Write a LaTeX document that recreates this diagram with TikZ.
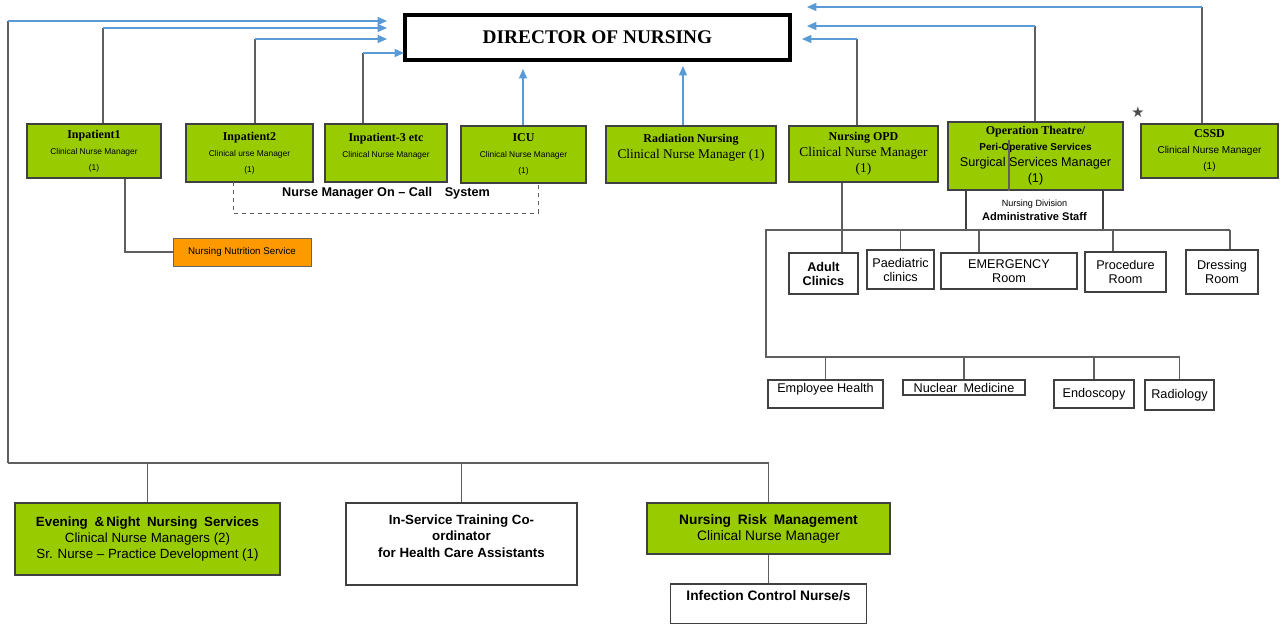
\documentclass[tikz,border=0pt]{standalone}
\usepackage{fontspec}
\setmainfont{Liberation Serif}
\setsansfont{Liberation Sans}
\newfontfamily\symfont{DejaVu Sans}
\usepackage{tikz}
\usetikzlibrary{arrows.meta}

\definecolor{leafgreen}{RGB}{153,204,0}
\definecolor{nutrorange}{RGB}{255,153,0}
\definecolor{linkblue}{RGB}{91,155,213}
\definecolor{linegray}{RGB}{95,95,95}

% box headings and the small manager lines
\newcommand{\hd}[1]{{\bfseries\fontsize{9}{10}\selectfont #1}}
\newcommand{\tn}[1]{{\sffamily\fontsize{6.3}{8}\selectfont #1}}

\begin{document}
\begin{tikzpicture}[x=0.75pt, y=-0.75pt,
    mgr/.style={rectangle, draw=black!75, fill=leafgreen, line width=0.9pt, align=center, inner sep=1pt},
    unit/.style={rectangle, draw=black!75, fill=white, line width=0.9pt, align=center, inner sep=1pt, font=\sffamily\fontsize{9.5}{10.5}\selectfont},
    link/.style={draw=linegray, line width=0.9pt},
    flow/.style={draw=linkblue, line width=0.9pt, -{Triangle[length=7pt, width=6pt]}}]

    \useasboundingbox (0,0) rectangle (1282,624);

    \node [draw=black, line width=2.6pt, minimum width=288.75pt, minimum height=33.75pt, font=\bfseries\fontsize{14.5}{16}\selectfont] (dir) at (597.5,37.5) {DIRECTOR OF NURSING};

    % ward managers
    \node [mgr, minimum width=100.5pt, minimum height=40.5pt] (ip1) at (94,151) {\hd{Inpatient1}\\\tn{Clinical Nurse Manager}\\\tn{(1)}};
    \node [mgr, minimum width=95.25pt, minimum height=43.5pt] (ip2) at (249.5,153) {\hd{Inpatient2}\\\tn{Clinical urse Manager}\\\tn{(1)}};
    \node [mgr, minimum width=91.5pt, minimum height=43.5pt, text depth=12pt] (ip3) at (386,153) {\hd{Inpatient-3 etc}\\\tn{Clinical Nurse Manager}};
    \node [mgr, minimum width=93.75pt, minimum height=42.75pt] (icu) at (523.5,154.5) {\hd{ICU}\\\tn{Clinical Nurse Manager}\\\tn{(1)}};
    \node [mgr, minimum width=127.5pt, minimum height=42.75pt, text depth=12pt] (rad) at (691,154.5) {\hd{Radiation Nursing}\\{\fontsize{10}{11}\selectfont Clinical Nurse Manager (1)}};
    \node [mgr, minimum width=111.75pt, minimum height=42pt] (opd) at (863.5,154) {\hd{Nursing OPD}\\{\fontsize{10}{10.5}\selectfont Clinical Nurse Manager}\\{\fontsize{10}{10.5}\selectfont (1)}};
    \node [mgr, minimum width=131.25pt, minimum height=51pt] (ot) at (1035.5,156) {\hd{Operation Theatre/}\\{\sffamily\bfseries\fontsize{7.5}{9}\selectfont Peri-Operative Services}\\{\sffamily\fontsize{9.5}{10}\selectfont Surgical Services Manager}\\{\sffamily\fontsize{9.5}{10}\selectfont (1)}};
    \node [mgr, minimum width=102.75pt, minimum height=40.5pt] (cssd) at (1209.5,151) {\hd{CSSD}\\{\sffamily\fontsize{7.5}{9}\selectfont Clinical Nurse Manager}\\{\sffamily\fontsize{7.5}{9}\selectfont (1)}};
    \node [text=black!70, font=\symfont\fontsize{11}{12}\selectfont] (star) at (1138,112) {★};

    \node [unit, minimum width=102.75pt, minimum height=30pt] (admin) at (1034.5,210) {{\fontsize{6.8}{8}\selectfont Nursing Division}\\{\bfseries\fontsize{8.3}{9.5}\selectfont Administrative Staff}};
    \node [rectangle, draw=black!60, fill=nutrorange, minimum width=103.5pt, minimum height=21pt, inner sep=1pt, font=\sffamily\fontsize{7.3}{8}\selectfont] (nutr) at (242,252) {Nursing Nutrition Service};
    \node [minimum width=228pt, minimum height=23.25pt, text depth=8pt, font=\sffamily\bfseries\fontsize{9.5}{10}\selectfont] (oncall) at (386,197.5) {Nurse Manager On -- Call\quad System};

    % clinics and rooms
    \node [unit, minimum width=51.75pt, minimum height=30.75pt] (adult) at (823.5,273.5) {\textbf{Adult}\\\textbf{Clinics}};
    \node [unit, minimum width=50.25pt, minimum height=29.25pt] (paed) at (900.5,269.5) {Paediatric\\clinics};
    \node [unit, minimum width=102pt, minimum height=27pt] (emer) at (1009,271) {EMERGENCY\\Room};
    \node [unit, minimum width=60.75pt, minimum height=30pt] (proc) at (1125.5,272) {Procedure\\Room};
    \node [unit, minimum width=54pt, minimum height=33pt] (dress) at (1222,272) {Dressing\\Room};
    \node [unit, minimum width=86.25pt, minimum height=21pt, text depth=9pt] (eh) at (825.5,394) {Employee Health};
    \node [unit, minimum width=91.5pt, minimum height=11.25pt] (nm) at (964,387.5) {Nuclear\enspace Medicine};
    \node [unit, minimum width=60pt, minimum height=21pt] (endo) at (1094,394) {Endoscopy};
    \node [unit, minimum width=51.75pt, minimum height=22.5pt] (radio) at (1179.5,395) {Radiology};

    % bottom row
    \node [mgr, minimum width=198.75pt, minimum height=54pt, font=\sffamily\fontsize{10}{12}\selectfont] (eve) at (147.5,539) {\textbf{Evening\enspace\&\,Night\enspace Nursing\enspace Services}\\Clinical Nurse Managers (2)\\Sr. Nurse -- Practice Development (1)};
    \node [unit, minimum width=173.25pt, minimum height=61.5pt, text depth=12pt, font=\sffamily\bfseries\fontsize{10}{12.5}\selectfont] (ins) at (461.5,544) {In-Service Training Co-\\ordinator\\for Health Care Assistants};
    \node [mgr, minimum width=182.25pt, minimum height=38.25pt, font=\sffamily\fontsize{10.3}{12}\selectfont] (risk) at (768.5,528.5) {\textbf{Nursing\enspace Risk\enspace Management}\\Clinical Nurse Manager};
    \node [unit, minimum width=147pt, minimum height=30pt, text depth=12pt, font=\sffamily\bfseries\fontsize{10.3}{12}\selectfont] (infect) at (768.5,604) {Infection Control Nurse/s};

    % bend points
    \coordinate (lefttop) at (8,21);
    \coordinate (leftbot) at (8,463);
    \coordinate (in1) at (387,21);
    \coordinate (in2) at (387,28);
    \coordinate (in3) at (387,39);
    \coordinate (in4) at (404,53);
    \coordinate (k2) at (103,28);
    \coordinate (k3) at (255,39);
    \coordinate (k4) at (363,53);
    \coordinate (icutip) at (523,69);
    \coordinate (radtip) at (683,66);
    \coordinate (out1) at (807,7);
    \coordinate (out2) at (807,26);
    \coordinate (out3) at (802,39);
    \coordinate (k5) at (1202,7);
    \coordinate (k6) at (1035,26);
    \coordinate (k7) at (857,39);
    \coordinate (nk) at (125,249);
    \coordinate (otk) at (1009,140);
    \coordinate (railL) at (766,230);
    \coordinate (railR) at (1230,230);
    \coordinate (rail2L) at (766,357);
    \coordinate (opdk) at (842,230);
    \coordinate (emk) at (979,230);
    \coordinate (prk) at (1113,230);

    % reporting lines to the director
    \draw [link] (leftbot) -- (lefttop);
    \draw [flow] (lefttop) -- (in1);
    \draw [link] (k2 |- ip1.north) -- (k2);
    \draw [flow] (k2) -- (in2);
    \draw [link] (k3 |- ip2.north) -- (k3);
    \draw [flow] (k3) -- (in3);
    \draw [link] (k4 |- ip3.north) -- (k4);
    \draw [flow] (k4) -- (in4);
    \draw [flow] (icutip |- icu.north) -- (icutip);
    \draw [flow] (radtip |- rad.north) -- (radtip);
    \draw [link] (k5 |- cssd.north) -- (k5);
    \draw [flow] (k5) -- (out1);
    \draw [link] (k6 |- ot.north) -- (k6);
    \draw [flow] (k6) -- (out2);
    \draw [link] (k7 |- opd.north) -- (k7);
    \draw [flow] (k7) -- (out3);

    \draw [link] (nk |- ip1.south) |- (nutr.west);
    \draw [link, dashed] (oncall.north west) -- (oncall.south west) -- (oncall.south east) -- (oncall.north east);
    \draw [link] (otk) -- (otk |- ot.south);

    % clinics
    \draw [link] (railR) -- (railL) -- (rail2L) -- (rail2L -| radio.north);
    \draw [link] (opdk |- opd.south) -- (opdk |- adult.north);
    \draw [link] (paed.north) -- (paed.north |- railL);
    \draw [link] (emk) -- (emk |- emer.north);
    \draw [link] (prk) -- (prk |- proc.north);
    \draw [link] (railR) -- (railR |- dress.north);
    \foreach \n in {eh,nm,endo,radio}
        \draw [link] (\n.north) -- (\n.north |- rail2L);

    % bottom row
    \draw [link] (leftbot) -| (risk.north);
    \draw [link] (eve.north) -- (eve.north |- leftbot);
    \draw [link] (ins.north) -- (ins.north |- leftbot);
    \draw [link] (risk.south) -- (infect.north);
\end{tikzpicture}
\end{document}
